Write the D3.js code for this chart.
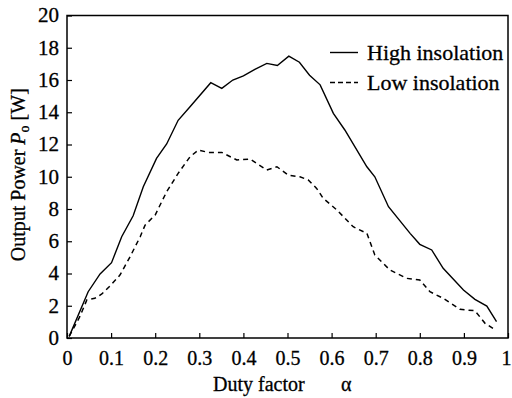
<!DOCTYPE html>
<html>
<head>
<meta charset="utf-8">
<script src="https://cdn.jsdelivr.net/npm/d3@7"></script>
<style>
  body { margin: 0; background: #fff; }
</style>
</head>
<body>
<div id="chart"></div>
<script>
// Data
const highAlpha = [0.005, 0.048, 0.075, 0.101, 0.124, 0.150, 0.173, 0.203, 0.226, 0.252, 0.279, 0.326, 0.351, 0.376, 0.400, 0.426, 0.453, 0.477, 0.503, 0.527, 0.550, 0.574, 0.604, 0.630, 0.680, 0.698, 0.729, 0.778, 0.800, 0.827, 0.853, 0.899, 0.925, 0.952, 0.974];
const highPower = [0.1, 2.87, 3.97, 4.67, 6.28, 7.58, 9.38, 11.14, 12.03, 13.5, 14.34, 15.83, 15.48, 16.0, 16.26, 16.66, 17.03, 16.9, 17.48, 17.1, 16.3, 15.7, 13.93, 12.9, 10.62, 10.0, 8.14, 6.49, 5.81, 5.46, 4.32, 2.98, 2.4, 1.98, 1.01];

const lowAlpha = [0.005, 0.029, 0.045, 0.063, 0.079, 0.098, 0.120, 0.143, 0.166, 0.177, 0.200, 0.226, 0.252, 0.279, 0.298, 0.320, 0.351, 0.385, 0.415, 0.453, 0.476, 0.502, 0.528, 0.547, 0.566, 0.581, 0.612, 0.649, 0.680, 0.698, 0.732, 0.770, 0.800, 0.823, 0.853, 0.891, 0.925, 0.948, 0.971];
const lowPower = [0.1, 1.32, 2.36, 2.46, 2.73, 3.24, 3.9, 5.04, 6.28, 7.0, 7.63, 9.07, 10.21, 11.24, 11.66, 11.51, 11.51, 11.04, 11.1, 10.42, 10.62, 10.1, 10.0, 9.8, 9.28, 8.66, 7.94, 6.9, 6.49, 5.15, 4.22, 3.7, 3.6, 2.87, 2.46, 1.78, 1.69, 0.91, 0.5];

const xTicks = [0, 0.1, 0.2, 0.3, 0.4, 0.5, 0.6, 0.7, 0.8, 0.9, 1];
const yTicks = [0, 2, 4, 6, 8, 10, 12, 14, 16, 18, 20];
const seriesNames = ["High insolation", "Low insolation"];

const FONT = "'Liberation Serif', 'Times New Roman', 'DejaVu Serif', serif";

// Dimensions and margins
const margin = {top: 15.5, right: 4, bottom: 60, left: 67},
    width = 512 - margin.left - margin.right,
    height = 398 - margin.top - margin.bottom;

const svg = d3.select("#chart")
  .append("svg")
    .attr("width", 512)
    .attr("height", 398)
  .append("g")
    .attr("transform", "translate(" + margin.left + "," + margin.top + ")");

const x = d3.scaleLinear().domain([0, 1]).range([0, width]);
const y = d3.scaleLinear().domain([0, 20]).range([height, 0]);

// X axis, ticks pointing inward
const xAxis = svg.append("g")
  .attr("transform", "translate(0," + height + ")")
  .call(d3.axisBottom(x).tickValues(xTicks).tickSizeInner(-5).tickSizeOuter(0)
    .tickFormat(d => d === 0 || d === 1 ? d3.format("d")(d) : d3.format(".1f")(d)));
xAxis.selectAll("text")
  .attr("y", 13)
  .attr("dx", d => d === 1 ? -2 : 0)
  .style("font-size", "20px");

// Y axis
const yAxis = svg.append("g")
  .call(d3.axisLeft(y).tickValues(yTicks).tickSizeInner(-5).tickSizeOuter(0));
yAxis.selectAll("text").attr("x", -8).attr("dy", "0.3em").style("font-size", "21px");

svg.selectAll(".domain").remove();
svg.selectAll(".tick line").attr("stroke", "#000").attr("stroke-width", 1.2);

// Frame
svg.append("rect")
  .attr("width", width)
  .attr("height", height)
  .attr("fill", "none")
  .attr("stroke", "#000")
  .attr("stroke-width", 1.5);

// Lines
const line = d3.line().x(d => x(d[0])).y(d => y(d[1]));
const highData = highAlpha.map((a, i) => [a, highPower[i]]);
const lowData = lowAlpha.map((a, i) => [a, lowPower[i]]);

svg.append("path")
  .datum(highData)
  .attr("fill", "none")
  .attr("stroke", "#000")
  .attr("stroke-width", 1.4)
  .attr("d", line);

svg.append("path")
  .datum(lowData)
  .attr("fill", "none")
  .attr("stroke", "#000")
  .attr("stroke-width", 1.5)
  .attr("stroke-dasharray", "5,4")
  .attr("d", line);

// Legend
seriesNames.forEach(function(name, i) {
  const ly = 37 + i * 30;
  svg.append("line")
    .attr("x1", 263).attr("x2", 291)
    .attr("y1", ly).attr("y2", ly)
    .attr("stroke", "#000")
    .attr("stroke-width", 1.4)
    .attr("stroke-dasharray", i === 1 ? "5,3" : null);
  svg.append("text")
    .attr("x", 300)
    .attr("y", ly + 7)
    .style("font-size", "22px")
    .text(name);
});

// X axis label
svg.append("text")
  .attr("x", 146)
  .attr("y", height + 53)
  .style("font-size", "20px")
  .text("Duty factor")
  .append("tspan")
    .attr("x", 274)
    .text("α");

// Y axis label
const yl = svg.append("text")
  .attr("transform", "rotate(-90)")
  .attr("x", -(height / 2) + 2)
  .attr("y", -42)
  .style("text-anchor", "middle")
  .style("font-size", "20px");
yl.append("tspan").text("Output Power  ");
yl.append("tspan").style("font-style", "italic").text("P");
yl.append("tspan").attr("dy", 4).style("font-size", "14px").text("o");
yl.append("tspan").attr("dy", -4).text("  [W]");

svg.selectAll("text")
  .style("font-family", FONT)
  .style("fill", "#000")
  .style("stroke", "#000")
  .style("stroke-width", 0.3);
</script>
</body>
</html>
